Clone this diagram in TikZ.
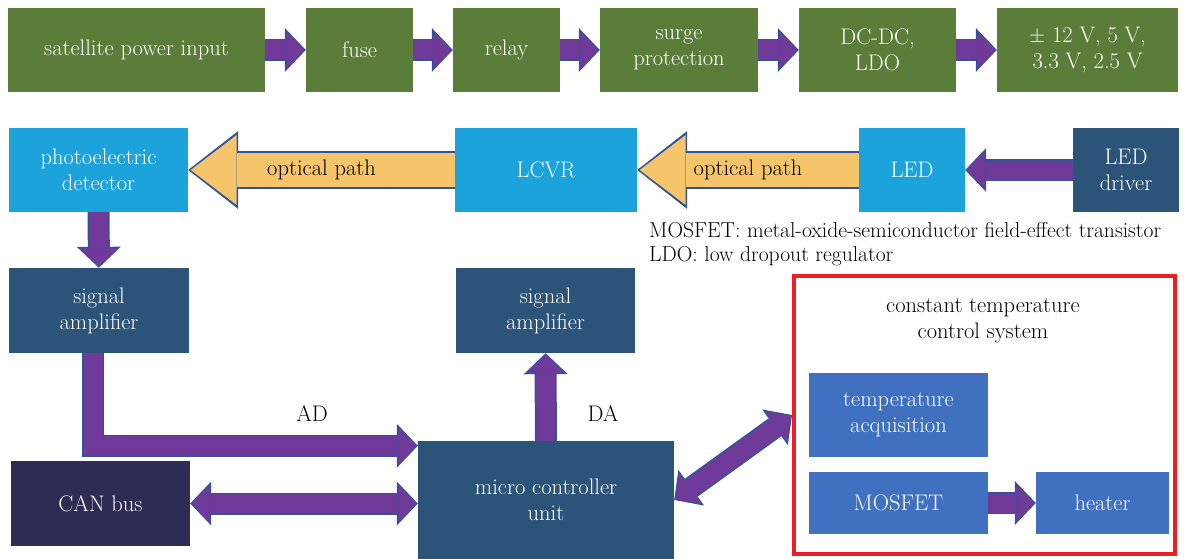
\documentclass[tikz,border=0pt]{standalone}
\usepackage{tikz}
\usetikzlibrary{arrows.meta,calc}
\definecolor{pgreen}{RGB}{90,126,58}
\definecolor{lblue}{RGB}{28,163,220}
\definecolor{dblue}{RGB}{44,83,120}
\definecolor{cnavy}{RGB}{44,44,84}
\definecolor{mblue}{RGB}{64,112,192}
\definecolor{apurple}{RGB}{112,58,155}
\definecolor{aline}{RGB}{47,85,151}
\definecolor{ayellow}{RGB}{246,196,106}
\definecolor{cred}{RGB}{232,32,37}

\begin{document}
\begin{tikzpicture}[x=1pt,y=-1pt,
	blk/.style={rectangle,inner sep=0pt,align=center,text=white,font=\fontsize{22.5}{26}\selectfont},
	lbl/.style={inner sep=0pt,align=center,text=black,font=\fontsize{22.5}{26}\selectfont},
	parrow/.style={draw=apurple,line width=19pt,line join=miter,
		-{Triangle[width=38pt,length=18pt,line width=0pt]},shorten >=1.5pt,
		preaction={draw=aline,line width=22pt,-{Triangle[width=44pt,length=21pt,line width=0pt]},shorten >=0pt}},
	pdarrow/.style={draw=apurple,line width=19pt,
		{Triangle[width=38pt,length=18pt,line width=0pt]}-{Triangle[width=38pt,length=18pt,line width=0pt]},shorten >=1.5pt,shorten <=1.5pt,
		preaction={draw=aline,line width=22pt,{Triangle[width=44pt,length=21pt,line width=0pt]}-{Triangle[width=44pt,length=21pt,line width=0pt]},shorten >=0pt,shorten <=0pt}},
	yarrow/.style={draw=ayellow,line width=34pt,
		-{Triangle[width=70pt,length=46pt,line width=0pt]},shorten >=2.5pt,
		preaction={draw=aline,line width=38pt,-{Triangle[width=78pt,length=50pt,line width=0pt]},shorten >=0pt}}]
	\useasboundingbox (0,0) rectangle (1204,559);
	%POWER
	\node[blk,fill=pgreen,minimum width=257pt,minimum height=84pt] (spi) at (136.5,50) {satellite power input};
	\node[blk,fill=pgreen,minimum width=107pt,minimum height=84pt] (fuse) at (359.5,50) {fuse};
	\node[blk,fill=pgreen,minimum width=107pt,minimum height=84pt] (relay) at (506.5,50) {relay};
	\node[blk,fill=pgreen,minimum width=158pt,minimum height=84pt] (surge) at (679,50) {surge\\protection};
	\node[blk,fill=pgreen,minimum width=157pt,minimum height=84pt] (dcdc) at (877.5,50) {DC-DC,\\LDO};
	\node[blk,fill=pgreen,minimum width=181pt,minimum height=84pt] (volt) at (1087.5,50) {$\pm$ 12 V, 5 V,\\3.3 V, 2.5 V};
	\draw[parrow] (spi) -- (fuse);
	\draw[parrow] (fuse) -- (relay);
	\draw[parrow] (relay) -- (surge);
	\draw[parrow] (surge) -- (dcdc);
	\draw[parrow] (dcdc) -- (volt);
	%OPTICS
	\node[blk,fill=lblue,minimum width=179pt,minimum height=84pt] (photo) at (98.5,170) {photoelectric\\detector};
	\node[blk,fill=lblue,minimum width=182pt,minimum height=84pt] (lcvr) at (546,170) {LCVR};
	\node[blk,fill=lblue,minimum width=106pt,minimum height=84pt] (led) at (912,170) {LED};
	\node[blk,fill=dblue,minimum width=106pt,minimum height=84pt] (leddrv) at (1126,170) {LED\\driver};
	\draw[yarrow] (lcvr.west) -- node[lbl]{optical path} (photo.east);
	\draw[yarrow] (led.west) -- node[lbl]{optical path} (lcvr.east);
	\draw[parrow] (leddrv) -- (led);
	\node[lbl,anchor=west,align=left,font=\fontsize{21.6}{24}\selectfont] (note) at (649,244) {MOSFET: metal-oxide-semiconductor field-effect transistor\\LDO: low dropout regulator};
	%ELECTRONICS
	\node[blk,fill=dblue,minimum width=180pt,minimum height=85pt] (amp1) at (99,310.5) {signal\\amplifier};
	\node[blk,fill=dblue,minimum width=179pt,minimum height=85pt] (amp2) at (545.5,310.5) {signal\\amplifier};
	\node[blk,fill=dblue,minimum width=256pt,minimum height=118pt] (mcu) at (546,500) {micro controller\\unit};
	\node[blk,fill=cnavy,minimum width=179pt,minimum height=85pt] (can) at (100.5,503.5) {CAN bus};
	\draw[parrow] (photo) -- (amp1);
	\draw[parrow] (mcu) -- (amp2);
	\draw[parrow] ([xshift=-6pt]amp1.south) |- ([yshift=-5pt]mcu.north west);
	\draw[pdarrow] (can.east) -- (can.east -| mcu.west);
	\node[lbl] (ad) at (312,414) {AD};
	\node[lbl] (da) at (603,414) {DA};
	%TEMPERATURE
	\node[draw=cred,line width=4pt,inner sep=0pt,minimum width=381pt,minimum height=278pt] (ctcs) at (984.5,415) {};
	\node[lbl] (ctcstitle) at (983,321) {constant temperature\\control system};
	\node[blk,fill=mblue,minimum width=179pt,minimum height=84pt] (tacq) at (898.5,415) {temperature\\acquisition};
	\node[blk,fill=mblue,minimum width=179pt,minimum height=62pt] (mosfet) at (898.5,503) {MOSFET};
	\node[blk,fill=mblue,minimum width=133pt,minimum height=62pt] (heater) at (1102.5,503) {heater};
	\draw[parrow] (mosfet) -- (heater);
	\draw[pdarrow] (mcu.east) -- (ctcs.west);
\end{tikzpicture}
\end{document}
